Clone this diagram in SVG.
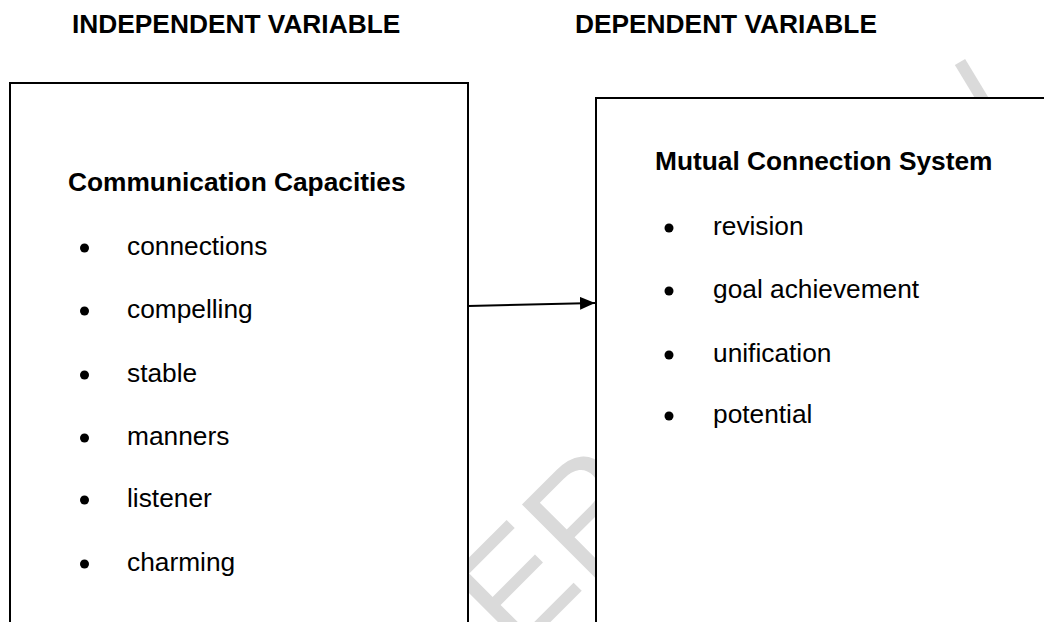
<svg xmlns="http://www.w3.org/2000/svg" width="1044" height="622" viewBox="0 0 1044 622">
  <style>
    .hdr { font-family: "Liberation Sans", Arial, sans-serif; font-weight: bold; font-size: 26.3px; fill: #000; }
    .ttl { font-family: "Liberation Sans", Arial, sans-serif; font-weight: bold; font-size: 26.3px; fill: #000; }
    .itm { font-family: "Liberation Sans", Arial, sans-serif; font-size: 26.3px; fill: #000; }
    .box { fill: #fff; stroke: #000; stroke-width: 2; }
    .wm { font-family: "Liberation Sans", Arial, sans-serif; font-size: 150px; fill: #dadada; }
    .blt { fill: #000; }
  </style>
  <defs>
    <marker id="arrow" viewBox="0 0 15 13" refX="15" refY="6.5" markerWidth="15" markerHeight="13" markerUnits="userSpaceOnUse" orient="auto">
      <path d="M0,0 L15,6.5 L0,13 Z" fill="#000"/>
    </marker>
  </defs>
  <rect width="1044" height="622" fill="#fff"/>

  <g id="watermark">
    <text class="wm" transform="translate(515.5,657) rotate(-45)">ER</text>
    <line x1="960" y1="62" x2="983" y2="100" stroke="#dadada" stroke-width="12"/>
  </g>

  <g id="headers">
    <text class="hdr" x="72" y="32.5">INDEPENDENT VARIABLE</text>
    <text class="hdr" x="575" y="32.5">DEPENDENT VARIABLE</text>
  </g>

  <g id="independent">
    <rect class="box" x="10" y="83" width="458" height="600"/>
    <text class="ttl" x="68" y="191">Communication Capacities</text>
    <circle class="blt" cx="84.5" cy="248" r="4.5"/>
    <text class="itm" x="127" y="255">connections</text>
    <circle class="blt" cx="84.5" cy="311" r="4.5"/>
    <text class="itm" x="127" y="318">compelling</text>
    <circle class="blt" cx="84.5" cy="375" r="4.5"/>
    <text class="itm" x="127" y="382">stable</text>
    <circle class="blt" cx="84.5" cy="438" r="4.5"/>
    <text class="itm" x="127" y="445">manners</text>
    <circle class="blt" cx="84.5" cy="500" r="4.5"/>
    <text class="itm" x="127" y="507">listener</text>
    <circle class="blt" cx="84.5" cy="564" r="4.5"/>
    <text class="itm" x="127" y="571">charming</text>
  </g>

  <g id="dependent">
    <rect class="box" x="596" y="98" width="500" height="600"/>
    <text class="ttl" x="655" y="170">Mutual Connection System</text>
    <circle class="blt" cx="669" cy="228" r="4.5"/>
    <text class="itm" x="713" y="235">revision</text>
    <circle class="blt" cx="669" cy="291" r="4.5"/>
    <text class="itm" x="713" y="298">goal achievement</text>
    <circle class="blt" cx="669" cy="355" r="4.5"/>
    <text class="itm" x="713" y="362">unification</text>
    <circle class="blt" cx="669" cy="416" r="4.5"/>
    <text class="itm" x="713" y="423">potential</text>
  </g>

  <g id="connectors">
    <line x1="468" y1="306" x2="595" y2="303" stroke="#000" stroke-width="2" marker-end="url(#arrow)"/>
  </g>
</svg>
